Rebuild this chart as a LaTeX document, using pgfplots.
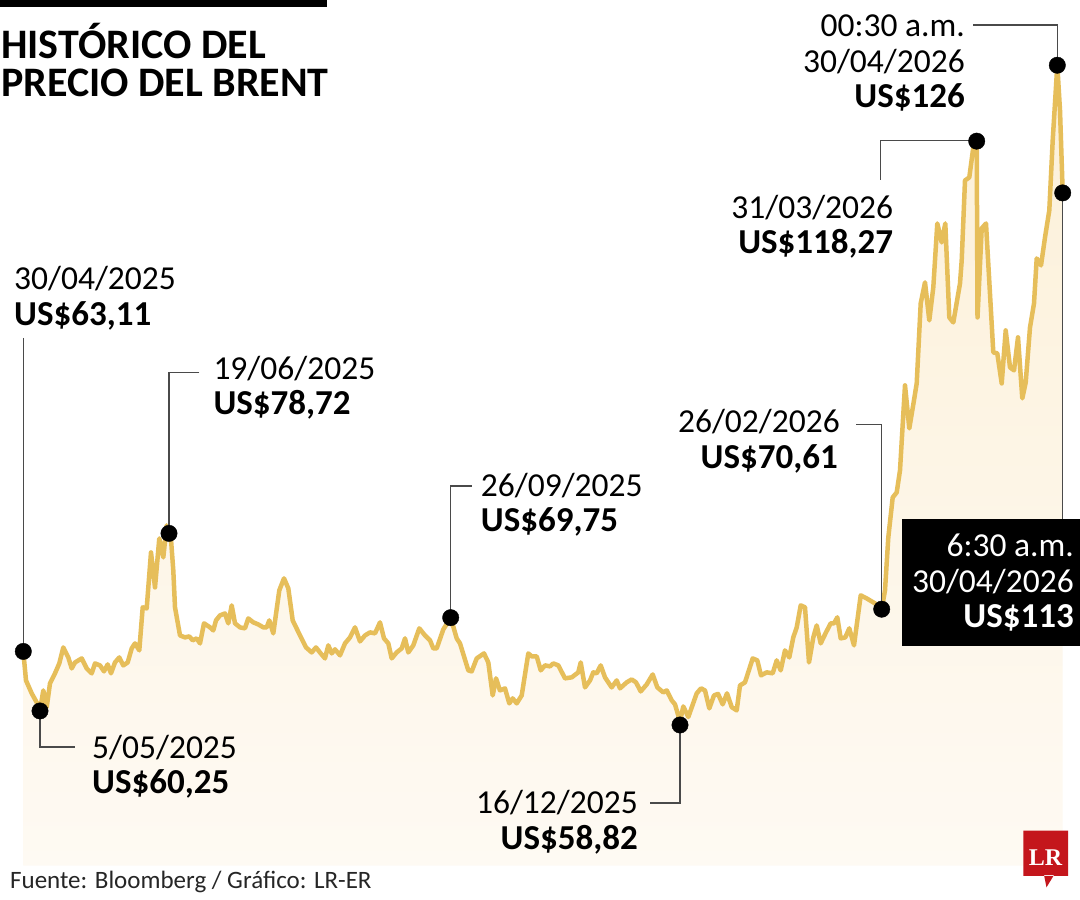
\documentclass[border=0pt]{standalone}
\usepackage{fontspec}
\setmainfont{Carlito}
\newfontfamily\lrfont{Liberation Serif}
\usepackage{pgfplots}
\usepackage{pgfplotstable}
\pgfplotsset{compat=1.18}
\definecolor{brent}{HTML}{E6BE5A}
\definecolor{filltop}{HTML}{FCF0D8}
\definecolor{fillbot}{HTML}{FEFAF3}
\definecolor{lrred}{HTML}{C4161C}
\definecolor{leader}{HTML}{4A4A4A}

% x = horizontal position of the session on the chart, y = price (US$)
\pgfplotstableread{
x y
23.3 66.31
26 63.36
31.7 62.04
36.7 61.12
40 60.31
43.3 62.34
46.7 60.61
50 63.06
55 64.08
59.3 65.09
63.3 66.72
68.3 65.70
71.7 64.58
75 65.19
81.7 65.60
86.7 64.58
91.7 64.08
95 65.09
100 64.89
104 64.28
107.7 64.99
111 64.08
115 65.19
119.3 65.70
123.3 64.89
127.7 65.19
131.7 66.62
135 67.13
139.3 66.42
142.7 70.80
146.7 70.69
151 76.39
155 72.83
159.3 77.82
163.3 75.89
166.7 79.14
169 78.33
170.7 78.13
173.3 74.56
175 70.80
180 67.94
185 67.74
189.3 67.84
192.7 67.44
196.7 67.64
200 67.13
204 69.17
210 68.76
213.3 68.45
216 69.47
220 69.98
225 70.18
228.3 69.17
231.7 71.00
235 69.17
240 68.76
245 68.66
248.3 69.67
253.3 69.27
258.3 69.06
263.3 68.76
266.7 68.76
269.3 69.47
273.3 68.15
279.3 72.53
284 73.75
288.3 72.73
292.7 69.47
300 67.94
306 66.72
311.7 66.21
316 66.72
320.7 66.11
325 65.60
328.3 66.93
331.7 66.11
335 66.52
340 65.91
345 67.13
350 67.74
355 68.76
360 67.33
365 67.94
370 68.25
375 68.15
380 69.27
384 67.64
388.3 67.13
391.7 65.60
396.7 66.21
401.7 66.62
405 67.64
408.3 66.21
413.3 66.93
419.3 68.66
425 67.94
430 67.44
433.3 66.62
436.7 66.62
443.3 68.55
450.7 69.75
456.7 67.64
460 67.13
468.3 64.38
471.7 64.28
476.7 65.60
484 66.11
488.3 65.19
492.7 61.83
496 63.57
500 62.34
505 62.55
509.3 61.02
512.7 61.53
516.7 61.02
521.7 61.83
528.3 66.11
531.7 65.81
536.7 65.81
540.7 64.38
545 64.89
550 64.79
553.3 65.09
558.3 64.89
565 63.57
571.7 63.67
578.3 64.18
580.7 65.19
585 62.65
590 63.36
593.3 64.18
596.7 64.08
600.7 64.89
605 63.67
611.7 62.65
616.7 63.36
620 62.55
626.7 63.16
631.7 63.46
636 63.16
640.7 62.24
646.7 62.95
652.7 63.97
657.3 62.65
663.3 62.14
666.7 62.34
671.7 61.33
675 60.92
680 59.19
683.3 60.71
688.3 59.63
696.7 62.04
701 62.55
705 62.34
709.3 60.51
714 61.83
718 61.99
722.7 60.92
727 62.04
731.7 60.64
736.7 60.31
740 62.85
745 63.16
752.7 65.60
757.3 65.40
761 63.87
766.7 64.18
772.7 64.08
776.7 65.40
780.7 64.38
785 66.42
789.3 65.70
793.3 67.74
796.7 68.76
800.7 71.00
805 70.80
809 65.19
813.3 67.74
816.7 68.96
820.7 67.13
826 68.25
830.7 69.17
834 69.17
837.3 69.78
840.7 67.64
845.3 67.74
849.3 68.66
854 66.93
860.7 72.02
866.7 71.71
875 71.20
881.7 70.61
885 72.53
888.3 77.92
892.7 81.99
896.7 82.50
900 84.74
905 93.40
909.3 89.02
913.3 91.46
916.7 93.60
920.7 101.75
925 103.89
929.3 100.02
933.3 103.38
937.3 109.89
941.7 107.96
945.3 109.89
949.3 100.32
953.3 99.81
960 103.78
961.7 106.13
965 114.27
969.3 114.58
973.3 117.63
976.7 118.27
977.5 100.32
981.7 109.38
986 109.89
993.3 96.76
997.3 96.66
1001.7 93.60
1005.7 99.00
1010 95.23
1014 94.93
1018 98.29
1022.3 92.08
1025.7 93.70
1030 99.30
1034 101.75
1036.7 106.33
1041 105.62
1045 108.47
1049.3 111.22
1052.7 118.34
1057.3 126.00
1060 121.40
1062.7 113.00
}\brent

\pgfplotstableread{
x y
23.3 66.31
40 60.25
169 78.33
450.7 69.75
680 58.82
881.7 70.61
976.7 118.27
1057.3 126.00
1062.7 113.00
}\hitos

\newcommand\fdate{\fontsize{33.5}{36}\selectfont}
\newcommand\fval{\bfseries\fontsize{35}{38}\selectfont}

\begin{document}
\begin{tikzpicture}[x=1pt,y=1pt]
\fill[white] (0,0) rectangle (1080,900);
\begin{axis}[
  at={(0,35)}, anchor=south west,
  scale only axis, width=1080pt, height=865.2pt,
  xmin=0, xmax=1080, ymin=44.5, ymax=132.6,
  hide axis]
\addplot[draw=none, top color=filltop, bottom color=fillbot] table[x=x,y=y] {\brent} \closedcycle;
\addplot[brent, line width=4.5pt, line join=round, line cap=round] table[x=x,y=y] {\brent};
\end{axis}

\begin{scope}[shift={(0,900)}, yscale=-1]
% title
\fill[black] (0,0) rectangle (326.7,7.3);
\node[anchor=base west, inner sep=0, font=\bfseries\fontsize{42}{46}\selectfont] at (1,58.5) {HISTÓRICO DEL};
\node[anchor=base west, inner sep=0, font=\bfseries\fontsize{42}{46}\selectfont] at (1,96.8) {PRECIO DEL BRENT};

% leader lines
\begin{scope}[draw=leader, line width=1.4pt]
\draw (23.3,338) -- (23.3,651);
\draw (199.3,372.3) -- (169,372.3) -- (169,533);
\draw (40,710.6) -- (40,747) -- (75,747);
\draw (471.7,486) -- (450.7,486) -- (450.7,617);
\draw (680,724.6) -- (680,803) -- (650,803);
\draw (856,424.3) -- (881.7,424.3) -- (881.7,608.9);
\draw (880.7,180) -- (880.7,140.8) -- (976.7,140.8);
\draw (973.3,25) -- (1057.3,25) -- (1057.3,65);
\draw (1062.7,192.5) -- (1062.7,519.3);
\end{scope}

% black box
\fill[black] (901.7,519.3) rectangle (1080,645.7);

% labels
\node[anchor=base west, inner sep=0, font=\fdate] at (14,290) {30/04/2025};
\node[anchor=base west, inner sep=0, font=\fval] at (14,326) {US\$63,11};
\node[anchor=base west, inner sep=0, font=\fdate] at (213.3,380) {19/06/2025};
\node[anchor=base west, inner sep=0, font=\fval] at (213.3,415) {US\$78,72};
\node[anchor=base west, inner sep=0, font=\fdate] at (92,759) {5/05/2025};
\node[anchor=base west, inner sep=0, font=\fval] at (92,794) {US\$60,25};
\node[anchor=base west, inner sep=0, font=\fdate] at (480.7,497) {26/09/2025};
\node[anchor=base west, inner sep=0, font=\fval] at (480.7,532) {US\$69,75};
\node[anchor=base east, inner sep=0, font=\fdate] at (638,814) {16/12/2025};
\node[anchor=base east, inner sep=0, font=\fval] at (638,850) {US\$58,82};
\node[anchor=base east, inner sep=0, font=\fdate] at (840,433) {26/02/2026};
\node[anchor=base east, inner sep=0, font=\fval] at (838,469) {US\$70,61};
\node[anchor=base east, inner sep=0, font=\fdate] at (893.3,219) {31/03/2026};
\node[anchor=base east, inner sep=0, font=\fval] at (893.3,254) {US\$118,27};
\node[anchor=base east, inner sep=0, font=\fdate] at (965,36.7) {00:30 a.m.};
\node[anchor=base east, inner sep=0, font=\fdate] at (965,73) {30/04/2026};
\node[anchor=base east, inner sep=0, font=\fval] at (965,108) {US\$126};
\node[anchor=base east, inner sep=0, font=\fdate, text=white] at (1074,556.7) {6:30 a.m.};
\node[anchor=base east, inner sep=0, font=\fdate, text=white] at (1074,592.5) {30/04/2026};
\node[anchor=base east, inner sep=0, font=\fval, text=white] at (1074,628) {US\$113};

% source
\node[anchor=base west, inner sep=0, font=\fontsize{25}{28}\selectfont, text=black!85] at (10,889) {Fuente: Bloomberg / Gráfico: LR-ER};

% LR logo
\fill[lrred] (1023.3,830.7) rectangle (1068,876) (1044,875) -- (1054,875) -- (1046.5,887.3) -- cycle;
\node[anchor=base, inner sep=0, text=white, font=\lrfont\bfseries\fontsize{24}{25}\selectfont] at (1045.6,866) {LR};
\end{scope}

\begin{axis}[
  at={(0,35)}, anchor=south west,
  scale only axis, width=1080pt, height=865.2pt,
  xmin=0, xmax=1080, ymin=44.5, ymax=132.6,
  hide axis, clip=false]
\addplot[only marks, mark=*, mark size=8.2pt, black] table[x=x,y=y] {\hitos};
\end{axis}

\pgfresetboundingbox
\path[use as bounding box] (0,0) rectangle (1080,900);
\end{tikzpicture}
\end{document}
